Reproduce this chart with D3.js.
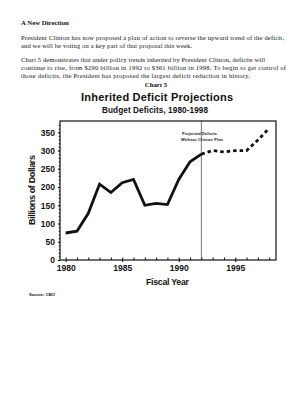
<!DOCTYPE html>
<html lang="en">
<head>
<meta charset="UTF-8">
<title>Inherited Deficit Projections</title>
<style>
body { margin: 0; background: #fff; }
svg { display: block; }
.serif { font-family: "Liberation Serif", "DejaVu Serif", serif; fill: #111; }
.sans { font-family: "Liberation Sans", Arial, sans-serif; fill: #111; font-weight: bold; }
</style>
</head>
<body>
<div id="plot"></div>
<script src="https://cdn.jsdelivr.net/npm/d3@7"></script>
<script>

const w = 306,
      h = 400;

// actual deficits, $bn
const years = [1980, 1981, 1982, 1983, 1984, 1985, 1986, 1987, 1988, 1989, 1990, 1991, 1992];
const deficits = [74, 79, 128, 208, 185, 212, 221, 150, 155, 152, 221, 269, 290];

// projected without the plan
const projYears = [1992, 1993, 1994, 1995, 1996, 1997, 1998];
const projDeficits = [290, 300, 296, 300, 300, 329, 361];

const yTicks = [0, 50, 100, 150, 200, 250, 300, 350];
const xTicks = [1980, 1985, 1990, 1995];

const para1 = [
    "President Clinton has now proposed a plan of action to reverse the upward trend of the deficit,",
    "and we will be voting on a key part of that proposal this week."
];
const para2 = [
    "Chart 5 demonstrates that under policy trends inherited by President Clinton, deficits will",
    "continue to rise, from $290 billion in 1992 to $361 billion in 1998.  To begin to get control of",
    "those deficits, the President has proposed the largest deficit reduction in history."
];

const svg = d3.select("#plot").append("svg")
    .attr("width", w)
    .attr("height", h);

// text above the chart
svg.append("text").attr("class", "serif")
    .attr("x", 21).attr("y", 25)
    .attr("font-size", 6.8).attr("font-weight", "bold")
    .text("A New Direction");

svg.selectAll(".p1")
    .data(para1)
    .join("text")
    .attr("class", "serif p1")
    .attr("x", 21)
    .attr("y", (d, i) => 39.5 + i * 8.3)
    .attr("font-size", 6.5)
    .attr("textLength", (d, i) => [263, 171][i])
    .text(d => d);

svg.selectAll(".p2")
    .data(para2)
    .join("text")
    .attr("class", "serif p2")
    .attr("x", 21)
    .attr("y", (d, i) => 61.5 + i * 8.3)
    .attr("font-size", 6.5)
    .attr("textLength", (d, i) => [244, 265, 229][i])
    .text(d => d);

svg.append("text").attr("class", "serif")
    .attr("x", 156).attr("y", 87)
    .attr("text-anchor", "middle")
    .attr("font-size", 6.8).attr("font-weight", "bold")
    .text("Chart 5");

svg.append("text").attr("class", "sans")
    .attr("x", 157).attr("y", 100.5)
    .attr("text-anchor", "middle")
    .attr("font-size", 11)
    .attr("textLength", 152)
    .text("Inherited Deficit Projections");

svg.append("text").attr("class", "sans")
    .attr("x", 155).attr("y", 112.8)
    .attr("text-anchor", "middle")
    .attr("font-size", 8.2)
    .attr("textLength", 106)
    .text("Budget Deficits, 1980-1998");

// plot area
const pLeft = 60, pRight = 276, pTop = 121, pBottom = 260;

const x = d3.scaleLinear()
    .domain([1979.5, 1998.6])
    .range([pLeft, pRight]);

const y = d3.scaleLinear()
    .domain([0, 381])
    .range([pBottom, pTop]);

svg.append("rect")
    .attr("x", pLeft).attr("y", pTop)
    .attr("width", pRight - pLeft).attr("height", pBottom - pTop)
    .attr("fill", "none")
    .attr("stroke", "#111")
    .attr("stroke-width", 1.2);

// minor year ticks inside bottom edge
svg.append("g")
    .attr("transform", `translate(0,${pBottom})`)
    .call(d3.axisBottom(x).tickValues(d3.range(1980, 1999)).tickSize(-2.5).tickFormat(""))
    .call(g => g.select(".domain").remove())
    .call(g => g.selectAll("line").attr("stroke", "#111"));

const xAxis = svg.append("g")
    .attr("transform", `translate(0,${pBottom})`)
    .call(d3.axisBottom(x).tickValues(xTicks).tickSize(2).tickPadding(3).tickFormat(d3.format("d")));
xAxis.select(".domain").remove();
xAxis.selectAll("text")
    .attr("class", "sans")
    .attr("font-size", 8.5);

const yAxis = svg.append("g")
    .attr("transform", `translate(${pLeft},0)`)
    .call(d3.axisLeft(y).tickValues(yTicks).tickSize(2).tickPadding(3));
yAxis.select(".domain").remove();
yAxis.selectAll("text")
    .attr("class", "sans")
    .attr("font-size", 8.5);

// minor y ticks
svg.append("g")
    .attr("transform", `translate(${pLeft},0)`)
    .call(d3.axisLeft(y).tickValues(d3.range(10, 380, 10)).tickSize(1.2).tickFormat(""))
    .call(g => g.select(".domain").remove());

svg.append("text").attr("class", "sans")
    .attr("transform", `translate(35,190) rotate(-90)`)
    .attr("text-anchor", "middle")
    .attr("font-size", 9)
    .attr("textLength", 70)
    .text("Billions of Dollars");

svg.append("text").attr("class", "sans")
    .attr("x", 167.5).attr("y", 285)
    .attr("text-anchor", "middle")
    .attr("font-size", 8.8)
    .attr("textLength", 43)
    .text("Fiscal Year");

svg.append("text").attr("class", "sans")
    .attr("x", 29).attr("y", 295.5)
    .attr("font-size", 4.2)
    .text("Source:  CBO");

// divider at 1992
svg.append("line")
    .attr("x1", x(1992)).attr("x2", x(1992))
    .attr("y1", pTop).attr("y2", pBottom)
    .attr("stroke", "#222")
    .attr("stroke-width", 0.6);

svg.append("text").attr("class", "sans")
    .attr("x", 182).attr("y", 134.8)
    .attr("font-size", 3.9)
    .attr("textLength", 35)
    .text("Projected  Deficits");
svg.append("text").attr("class", "sans")
    .attr("x", 181).attr("y", 140.6)
    .attr("font-size", 3.9)
    .attr("textLength", 42)
    .text("Without Clinton Plan");

const line = d3.line()
    .x(d => x(d[0]))
    .y(d => y(d[1]));

svg.append("path")
    .datum(d3.zip(years, deficits))
    .attr("d", line)
    .attr("fill", "none")
    .attr("stroke", "#111")
    .attr("stroke-width", 2.8)
    .attr("stroke-linejoin", "miter");

svg.append("path")
    .datum(d3.zip(projYears, projDeficits))
    .attr("d", line)
    .attr("fill", "none")
    .attr("stroke", "#111")
    .attr("stroke-width", 2.8)
    .attr("stroke-dasharray", "3.5,3");

</script>
</body>
</html>
